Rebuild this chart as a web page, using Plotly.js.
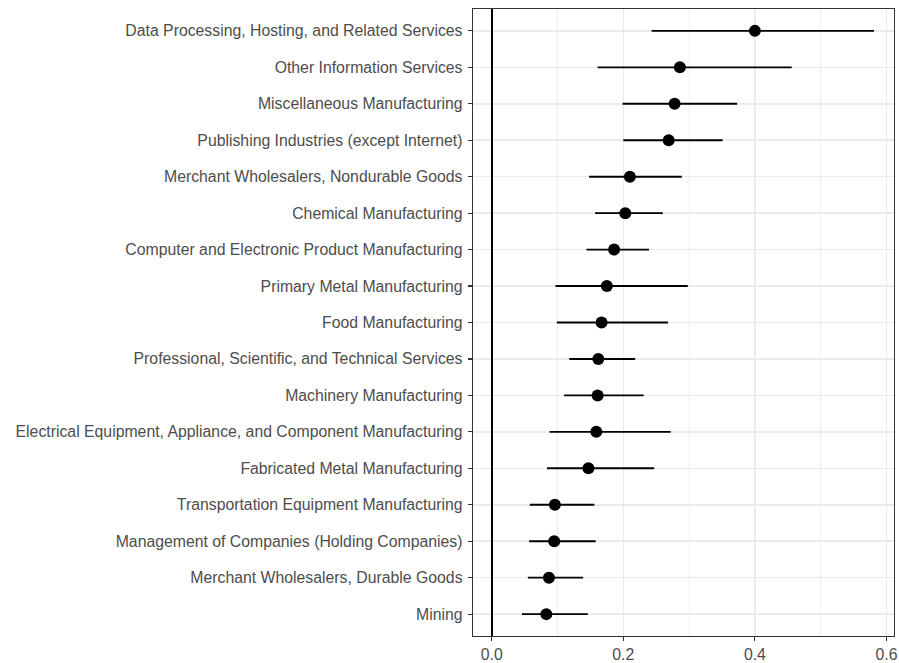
<!DOCTYPE html>
<html>
<head>
<meta charset="utf-8">
<script src="https://cdn.plot.ly/plotly-3.0.1.min.js"></script>
<style>html,body{margin:0;padding:0;background:#fff;}#chart{width:899px;height:663px;}</style>
</head>
<body>
<div id="chart"></div>
<script>
var industries = [
  "Data Processing, Hosting, and Related Services",
  "Other Information Services",
  "Miscellaneous Manufacturing",
  "Publishing Industries (except Internet)",
  "Merchant Wholesalers, Nondurable Goods",
  "Chemical Manufacturing",
  "Computer and Electronic Product Manufacturing",
  "Primary Metal Manufacturing",
  "Food Manufacturing",
  "Professional, Scientific, and Technical Services",
  "Machinery Manufacturing",
  "Electrical Equipment, Appliance, and Component Manufacturing",
  "Fabricated Metal Manufacturing",
  "Transportation Equipment Manufacturing",
  "Management of Companies (Holding Companies)",
  "Merchant Wholesalers, Durable Goods",
  "Mining"
];
var estimate = [0.400, 0.286, 0.278, 0.269, 0.210, 0.203, 0.186, 0.175, 0.167, 0.162, 0.161, 0.159, 0.147, 0.096, 0.095, 0.087, 0.083];
var lower    = [0.243, 0.161, 0.199, 0.200, 0.148, 0.157, 0.144, 0.097, 0.099, 0.118, 0.110, 0.088, 0.084, 0.058, 0.057, 0.055, 0.046];
var upper    = [0.581, 0.456, 0.373, 0.351, 0.289, 0.260, 0.239, 0.298, 0.268, 0.218, 0.231, 0.272, 0.247, 0.156, 0.158, 0.139, 0.146];
var xTicks = [0.0, 0.2, 0.4, 0.6];
var xTickLabels = ["0.0", "0.2", "0.4", "0.6"];

var plus = upper.map(function(u, i){ return u - estimate[i]; });
var minus = lower.map(function(l, i){ return estimate[i] - l; });

var trace = {
  type: "scatter",
  mode: "markers",
  x: estimate,
  y: industries,
  marker: {color: "#000000", size: 12},
  error_x: {type: "data", symmetric: false, array: plus, arrayminus: minus, width: 0, thickness: 1.9, color: "#000000"},
  hoverinfo: "x+y"
};

var layout = {
  width: 899, height: 663,
  margin: {l: 473, r: 5, t: 9, b: 27, pad: 0},
  paper_bgcolor: "#ffffff",
  plot_bgcolor: "#ffffff",
  showlegend: false,
  font: {family: "Liberation Sans, Arial, sans-serif", color: "#4D4D4D", size: 15.8},
  xaxis: {
    range: [-0.0284, 0.6114],
    tickvals: xTicks, ticktext: xTickLabels,
    ticks: "outside", ticklen: 4, tickwidth: 1.2, tickcolor: "#333333",
    tickfont: {size: 15.8, color: "#4D4D4D"},
    showgrid: true, gridcolor: "#EBEBEB", gridwidth: 1.5,
    minor: {dtick: 0.1, tick0: 0, showgrid: true, gridcolor: "#EBEBEB", gridwidth: 0.8, ticks: ""},
    zeroline: true, zerolinecolor: "#000000", zerolinewidth: 1.7,
    showline: true, linecolor: "#333333", linewidth: 1.3, mirror: true
  },
  yaxis: {
    type: "category",
    categoryorder: "array", categoryarray: industries,
    range: [16.6, -0.6],
    ticks: "outside", ticklen: 4, tickwidth: 1.2, tickcolor: "#333333",
    tickfont: {size: 15.8, color: "#4D4D4D"},
    showgrid: true, gridcolor: "#EBEBEB", gridwidth: 1.5,
    zeroline: false,
    showline: true, linecolor: "#333333", linewidth: 1.3, mirror: true,
    ticklabelstandoff: 2
  }
};

Plotly.newPlot("chart", [trace], layout, {displayModeBar: false, staticPlot: true});
</script>
</body>
</html>
